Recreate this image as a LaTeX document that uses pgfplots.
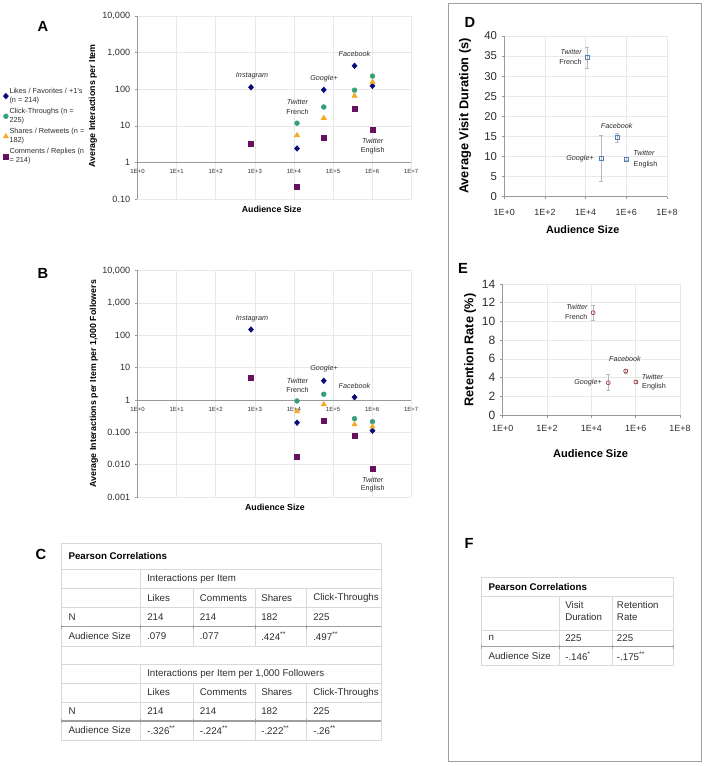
\documentclass[border=0pt]{standalone}
\usepackage{fontspec}
\setmainfont{Liberation Sans}
\usepackage{pgfplots}
\pgfplotsset{compat=1.18}
\definecolor{cNavy}{RGB}{10,10,120}
\definecolor{cTeal}{RGB}{56,160,120}
\definecolor{cOrange}{RGB}{246,168,33}
\definecolor{cPurple}{RGB}{105,15,95}
\definecolor{cTxt}{RGB}{45,45,45}
\definecolor{cBlue}{RGB}{79,129,189}
\definecolor{cRed}{RGB}{165,55,65}
\newcommand\an{\fontsize{5.4}{6.5}\selectfont}
\newcommand\tf{\fontsize{7.3}{8.8}\selectfont}
\newcommand\pl{\fontsize{11}{12}\selectfont\bfseries}
\pgfplotsset{
  myax/.style={
    scale only axis, anchor=south west, clip=false,
    /pgf/number format/assume math mode=true,
    axis line style={draw=gray!80, line width=0.5pt, -},
    grid=major, grid style={gray!18, line width=0.4pt},
    tick style={gray!80, line width=0.4pt},
    tick align=outside,
    major tick length=2pt,
    xminorticks=false, yminorticks=false,
    tick label style={text=cTxt},
  },
  likes/.style={only marks, mark=diamond*, mark size=2.1pt, color=cNavy, mark options={xscale=1.2}},
  clicks/.style={only marks, mark=*, mark size=1.8pt, color=cTeal},
  shares/.style={only marks, mark=triangle*, mark size=2.2pt, color=cOrange},
  comments/.style={only marks, mark=square*, mark size=1.9pt, color=cPurple},
}
\begin{document}
\begin{tikzpicture}
\path[use as bounding box] (0,0) rectangle (531.75pt,574.5pt);

% ---------------- Panel A ----------------
\begin{axis}[myax, at={(103.125pt,425.25pt)}, width=205.3pt, height=137.25pt,
  xmode=log, ymode=log, xmin=1, xmax=1e7, ymin=0.1, ymax=10000,
  axis x line*=middle, axis y line*=left, hide obscured x ticks=false,
  xtick={1,10,100,1000,10000,100000,1000000,10000000},
  xticklabels={1E+0,1E+1,1E+2,1E+3,1E+4,1E+5,1E+6,1E+7},
  ytick={0.1,1,10,100,1000,10000},
  yticklabels={0.10,1,10,100,{1,000},{10,000}},
  x tick style={draw=none},
  x tick label style={font=\fontsize{4.5}{5}\selectfont},
  y tick label style={font=\fontsize{6.8}{8}\selectfont},
  xlabel={Audience Size}, ylabel={Average Interactions per Item},
  xlabel style={at={(rel axis cs:0.49,-0.055)}, anchor=center, font=\fontsize{6.6}{8}\selectfont\bfseries},
  ylabel style={at={(rel axis cs:-0.1626,0.508)}, anchor=center, font=\fontsize{6.6}{8}\selectfont\bfseries},
  legend style={at={(rel axis cs:-0.491,0.612)}, anchor=north west, draw=none, fill=none,
    inner sep=0pt, font=\fontsize{5.5}{6.75}\selectfont, text=cTxt,
    nodes={inner sep=0.5pt},
    cells={anchor=west, align=left}, row sep=1.9pt, column sep=0.3pt},
  legend image code/.code={\draw[#1] plot coordinates {(2pt,0pt)};},
]
\addplot[likes] coordinates {(800,113) (12000,2.4) (58000,96) (355000,435) (1020000,123)};
\addplot[clicks] coordinates {(12000,11.8) (58000,32.6) (355000,94) (1020000,228)};
\addplot[shares] coordinates {(12000,5.5) (58000,16.3) (355000,66) (1020000,156)};
\addplot[comments] coordinates {(800,3.2) (12000,0.22) (58000,4.8) (355000,28.8) (1020000,7.8)};
\legend{{Likes / Favorites / +1's\\(n = 214)},{Click-Throughs (n =\\225)},{Shares / Retweets (n =\\182)},{Comments / Replies (n\\= 214)}}
\end{axis}

% ---------------- Panel B ----------------
\begin{axis}[myax, at={(103.125pt,201.75pt)}, width=205.3pt, height=169.875pt,
  xmode=log, ymode=log, xmin=1, xmax=1e7, ymin=0.001, ymax=10000,
  axis x line*=middle, axis y line*=left, hide obscured x ticks=false,
  xtick={1,10,100,1000,10000,100000,1000000,10000000},
  xticklabels={1E+0,1E+1,1E+2,1E+3,1E+4,1E+5,1E+6,1E+7},
  ytick={0.001,0.01,0.1,1,10,100,1000,10000},
  yticklabels={0.001,0.010,0.100,1,10,100,{1,000},{10,000}},
  x tick style={draw=none},
  x tick label style={font=\fontsize{4.5}{5}\selectfont},
  y tick label style={font=\fontsize{6.8}{8}\selectfont},
  xlabel={Audience Size}, ylabel={Average Interactions per Item per 1,000 Followers},
  xlabel style={at={(rel axis cs:0.502,-0.0455)}, anchor=center, font=\fontsize{6.6}{8}\selectfont\bfseries},
  ylabel style={at={(rel axis cs:-0.159,0.5)}, anchor=center, font=\fontsize{6.6}{8}\selectfont\bfseries},
]
\addplot[likes] coordinates {(800,150) (12000,0.198) (58000,3.9) (355000,1.21) (1020000,0.112)};
\addplot[clicks] coordinates {(12000,0.93) (58000,1.5) (355000,0.263) (1020000,0.212)};
\addplot[shares] coordinates {(12000,0.44) (58000,0.73) (355000,0.175) (1020000,0.149)};
\addplot[comments] coordinates {(800,4.7) (12000,0.0177) (58000,0.228) (355000,0.078) (1020000,0.0073)};
\end{axis}

% ---------------- Panel D ----------------
\begin{axis}[myax, at={(378.2pt,427pt)}, width=122pt, height=120.5pt,
  xmode=log, xmin=1, xmax=1e8, ymin=0, ymax=40,
  axis lines*=left,
  xtick={1,100,10000,1000000,100000000},
  xticklabels={1E+0,1E+2,1E+4,1E+6,1E+8},
  ytick={0,5,10,15,20,25,30,35,40},
  x tick label style={font=\fontsize{6.7}{8}\selectfont, yshift=-4pt},
  y tick label style={font=\fontsize{8.5}{10}\selectfont},
  xlabel={Audience Size}, ylabel={Average Visit Duration (s)},
  xlabel style={at={(rel axis cs:0.482,-0.207)}, anchor=center, font=\fontsize{8.1}{10}\selectfont\bfseries},
  ylabel style={at={(rel axis cs:-0.2415,0.502)}, anchor=center, font=\fontsize{9.6}{11}\selectfont\bfseries},
]
\addplot[only marks, mark=square, mark size=1.5pt, color=cBlue, mark options={line width=0.5pt},
  error bars/.cd, y dir=both, y explicit,
  error bar style={gray!55, line width=0.4pt},
  error mark options={rotate=90, gray!55, mark size=1.6pt, line width=0.4pt}]
  table[x=x, y=y, y error=e] {
x y e
12000 34.6 2.7
58000 9.5 5.7
355000 14.7 1.2
1020000 9.4 0.4
};
\end{axis}

% ---------------- Panel E ----------------
\begin{axis}[myax, at={(377pt,263.25pt)}, width=133pt, height=98.25pt,
  xmode=log, xmin=1, xmax=1e8, ymin=0, ymax=14,
  axis lines*=left,
  xtick={1,100,10000,1000000,100000000},
  xticklabels={1E+0,1E+2,1E+4,1E+6,1E+8},
  ytick={0,2,4,6,8,10,12,14},
  x tick label style={font=\fontsize{6.7}{8}\selectfont, yshift=-2.5pt},
  y tick label style={font=\fontsize{9}{10}\selectfont},
  xlabel={Audience Size}, ylabel={Retention Rate (\%)},
  xlabel style={at={(rel axis cs:0.496,-0.298)}, anchor=center, font=\fontsize{8.3}{10}\selectfont\bfseries},
  ylabel style={at={(rel axis cs:-0.184,0.496)}, anchor=center, font=\fontsize{9.5}{11}\selectfont\bfseries},
]
\addplot[only marks, mark=o, mark size=1.5pt, color=cRed, mark options={line width=0.5pt},
  error bars/.cd, y dir=both, y explicit,
  error bar style={gray!55, line width=0.4pt},
  error mark options={rotate=90, gray!55, mark size=1.6pt, line width=0.4pt}]
  table[x=x, y=y, y error=e] {
x y e
12000 10.93 0.8
58000 3.45 0.85
355000 4.7 0.2
1020000 3.53 0.15
};
\end{axis}

% ---------------- text, tables, frame (pixel coordinates) ----------------
\begin{scope}[yshift=574.5pt, x=0.75pt, y=-0.75pt, every node/.style={inner sep=0pt, text=cTxt}]
\draw[gray!75, line width=0.6pt] (448,3) rectangle (701,761);
\node[font=\pl, text=black] at (43,26) {A};
\node[font=\pl, text=black] at (43,273) {B};
\node[font=\pl, text=black] at (41,554) {C};
\node[font=\pl, text=black] at (470,22.7) {D};
\node[font=\pl, text=black] at (463,268) {E};
\node[font=\pl, text=black] at (469,543) {F};

% annotations A
\node[font=\an\itshape] at (252,75.7) {Instagram};
\node[font=\an\itshape] at (324,78.3) {Google+};
\node[font=\an\itshape] at (354.5,54.3) {Facebook};
\node[font=\an\itshape] at (297.5,102.3) {Twitter};
\node[font=\an] at (297.5,111.7) {French};
\node[font=\an\itshape] at (372.7,141) {Twitter};
\node[font=\an] at (372.7,150.3) {English};
% annotations B
\node[font=\an\itshape] at (252,318.7) {Instagram};
\node[font=\an\itshape] at (324,369) {Google+};
\node[font=\an\itshape] at (354.5,386) {Facebook};
\node[font=\an\itshape] at (297.5,380.7) {Twitter};
\node[font=\an] at (297.5,390) {French};
\node[font=\an\itshape] at (372.7,480) {Twitter};
\node[font=\an] at (372.7,489) {English};
% annotations D
\node[font=\an\itshape, anchor=east] at (582,52) {Twitter};
\node[font=\an, anchor=east] at (582,61.7) {French};
\node[font=\an\itshape] at (616.7,126.3) {Facebook};
\node[font=\an\itshape, anchor=east] at (594,158.3) {Google+};
\node[font=\an\itshape] at (644,152.7) {Twitter};
\node[font=\an] at (645.5,164.7) {English};
% annotations E
\node[font=\an\itshape, anchor=east] at (587.7,307.3) {Twitter};
\node[font=\an, anchor=east] at (587.7,317.3) {French};
\node[font=\an\itshape] at (625,359.3) {Facebook};
\node[font=\an\itshape, anchor=east] at (602,383) {Google+};
\node[font=\an\itshape] at (652.5,376.7) {Twitter};
\node[font=\an] at (654,387) {English};

% ---- Table C ----
\begin{scope}[gray!30, line width=0.5pt]
\draw (61.7,543) rectangle (381,740);
\foreach \yy in {569.7,588.5,607.7,646,664.3,683.3,702.3} \draw (61.7,\yy) -- (381,\yy);
\draw (140.3,569.7) -- (140.3,646);
\draw (140.3,664.3) -- (140.3,740);
\foreach \xx in {193.3,255.7,306.7} {\draw (\xx,588.5) -- (\xx,646); \draw (\xx,683.3) -- (\xx,740);}
\end{scope}
\foreach \yy in {626.7,721} {
  \draw[gray!75, line width=0.8pt] (61.7,\yy) -- (381,\yy);
  \foreach \xx in {61.7,140.3,193.3,255.7,306.7} \draw[gray!75, line width=0.5pt] (\xx,\yy-2) -- (\xx,\yy+2);
}
\begin{scope}[every node/.style={inner sep=0pt, anchor=west, font=\tf, text=cTxt}]
\node[font=\tf\bfseries, text=black] at (68.3,556.5) {Pearson Correlations};
\node at (147,579) {Interactions per Item};
\node at (147,598) {Likes}; \node at (199.7,598) {Comments}; \node at (261,598) {Shares}; \node at (313,598) {Click-Throughs};
\node at (68.3,617) {N}; \node at (147,617) {214}; \node at (199.7,617) {214}; \node at (261,617) {182}; \node at (313,617) {225};
\node at (68.3,636) {Audience Size}; \node at (147,636) {.079}; \node at (199.7,636) {.077}; \node at (261,636) {.424\textsuperscript{**}}; \node at (313,636) {.497\textsuperscript{**}};
\node at (147,673.5) {Interactions per Item per 1,000 Followers};
\node at (147,692.5) {Likes}; \node at (199.7,692.5) {Comments}; \node at (261,692.5) {Shares}; \node at (313,692.5) {Click-Throughs};
\node at (68.3,711.5) {N}; \node at (147,711.5) {214}; \node at (199.7,711.5) {214}; \node at (261,711.5) {182}; \node at (313,711.5) {225};
\node at (68.3,730.5) {Audience Size}; \node at (147,730.5) {-.326\textsuperscript{**}}; \node at (199.7,730.5) {-.224\textsuperscript{**}}; \node at (261,730.5) {-.222\textsuperscript{**}}; \node at (313,730.5) {-.26\textsuperscript{**}};
\end{scope}

% ---- Table F ----
\begin{scope}[gray!30, line width=0.5pt]
\draw (481,577.7) rectangle (673.7,665.3);
\foreach \yy in {596,630} \draw (481,\yy) -- (673.7,\yy);
\draw (559.3,596) -- (559.3,665.3);
\draw (612.3,596) -- (612.3,665.3);
\end{scope}
\draw[gray!75, line width=0.8pt] (481,646.7) -- (673.7,646.7);
\foreach \xx in {481,559.3,612.3,673.7} \draw[gray!75, line width=0.5pt] (\xx,644.7) -- (\xx,648.7);
\begin{scope}[every node/.style={inner sep=0pt, anchor=west, font=\tf, text=cTxt}]
\node[font=\tf\bfseries, text=black] at (488.3,587.3) {Pearson Correlations};
\node at (565,605) {Visit}; \node at (565,617.3) {Duration};
\node at (616.7,605) {Retention}; \node at (616.7,617.3) {Rate};
\node at (488.3,638) {n}; \node at (565,638) {225}; \node at (616.7,638) {225};
\node at (488.3,656) {Audience Size}; \node at (565,656) {-.146\textsuperscript{*}}; \node at (616.7,656) {-.175\textsuperscript{**}};
\end{scope}
\end{scope}
\end{tikzpicture}
\end{document}
